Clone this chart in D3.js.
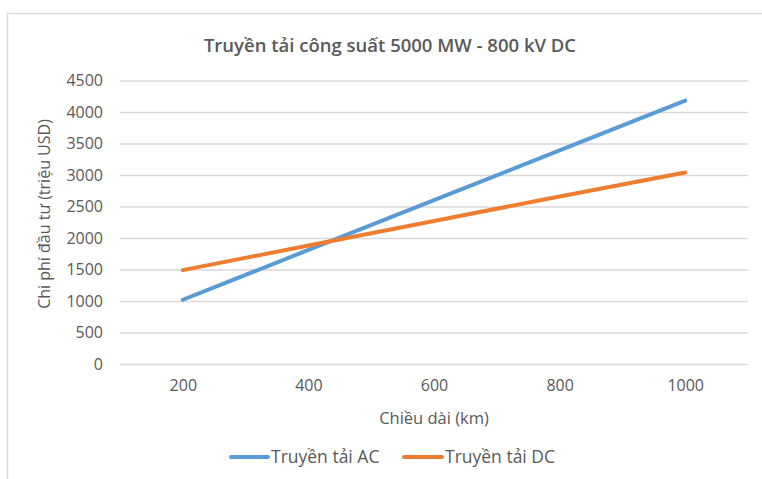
<!DOCTYPE html>
<html>
<head>
<meta charset="utf-8">
<script src="https://cdn.jsdelivr.net/npm/d3@7"></script>
<style>
  html, body { margin: 0; padding: 0; background: #fff; }
  svg { display: block; }
  text { font-family: "Open Sans", sans-serif; fill: #595959; }
</style>
</head>
<body>
<svg id="chart" width="762" height="479"></svg>
<script>
const categories = [200, 400, 600, 800, 1000];
const acValues = [1020, 1810, 2600, 3390, 4180];
const dcValues = [1490, 1880, 2270, 2660, 3040];
const yTicks = [0, 500, 1000, 1500, 2000, 2500, 3000, 3500, 4000, 4500];
const seriesNames = ["Truyền tải AC", "Truyền tải DC"];
const seriesColors = ["#5B9BD5", "#ED7D31"];
const titleText = "Truyền tải công suất 5000 MW - 800 kV DC";
const xTitle = "Chiều dài (km)";
const yTitle = "Chi phí đầu tư (triệu USD)";

const series = [
  { name: seriesNames[0], color: seriesColors[0], values: acValues },
  { name: seriesNames[1], color: seriesColors[1], values: dcValues }
];

const FONT = "'Open Sans', sans-serif";
const svg = d3.select("#chart");

// outer chart border (only top/left visible in frame)
svg.append("rect")
  .attr("x", 7.5).attr("y", 13.5)
  .attr("width", 800).attr("height", 600)
  .attr("fill", "none").attr("stroke", "#D9D9D9").attr("stroke-width", 1.5);

const plot = { left: 120, right: 748, top: 80.5, bottom: 364 };

const x = d3.scalePoint().domain(categories).range([plot.left, plot.right]).padding(0.5);
const y = d3.scaleLinear().domain([0, 4500]).range([plot.bottom, plot.top]);

// gridlines + y tick labels
const yAxis = d3.axisLeft(y).tickValues(yTicks).tickFormat(d3.format("d"))
  .tickSize(-(plot.right - plot.left)).tickPadding(17);
const gy = svg.append("g").attr("transform", `translate(${plot.left},0)`).call(yAxis);
gy.select(".domain").remove();
gy.attr("font-size", null).attr("font-family", null);
gy.selectAll(".tick line").attr("stroke", "#D9D9D9").attr("stroke-width", 1.3);
gy.selectAll(".tick text").style("font-size", "16px").style("fill", "#595959")
  .style("font-family", FONT);

// x axis labels
const xAxis = d3.axisBottom(x).tickSize(0).tickPadding(16);
const gx = svg.append("g").attr("transform", `translate(0,${plot.bottom})`).call(xAxis);
gx.select(".domain").remove();
gx.attr("font-size", null).attr("font-family", null);
gx.selectAll(".tick text").style("font-size", "16px").style("fill", "#595959")
  .style("font-family", FONT);

// lines
const line = d3.line().x((d, i) => x(categories[i])).y(d => y(d));
series.forEach(s => {
  svg.append("path")
    .datum(s.values)
    .attr("d", line)
    .attr("fill", "none")
    .attr("stroke", s.color)
    .attr("stroke-width", 4)
    .attr("stroke-linecap", "round")
    .attr("stroke-linejoin", "round");
});

// title
svg.append("text")
  .attr("x", 390).attr("y", 52)
  .attr("text-anchor", "middle")
  .style("font-size", "18.5px").style("font-weight", "600")
  .text(titleText);

// axis titles
svg.append("text")
  .attr("x", 434).attr("y", 424)
  .attr("text-anchor", "middle")
  .style("font-size", "16.5px")
  .text(xTitle);

svg.append("text")
  .attr("transform", "translate(50,214) rotate(-90)")
  .attr("text-anchor", "middle")
  .style("font-size", "16px")
  .text(yTitle);

// legend
const legendItems = [
  { x1: 231, x2: 268, tx: 271 },
  { x1: 404, x2: 442, tx: 445 }
];
series.forEach((s, i) => {
  const g = svg.append("g");
  g.append("line")
    .attr("x1", legendItems[i].x1).attr("x2", legendItems[i].x2)
    .attr("y1", 457).attr("y2", 457)
    .attr("stroke", s.color).attr("stroke-width", 4).attr("stroke-linecap", "round");
  g.append("text")
    .attr("x", legendItems[i].tx).attr("y", 463)
    .style("font-size", "17.5px")
    .text(s.name);
});
</script>
</body>
</html>
